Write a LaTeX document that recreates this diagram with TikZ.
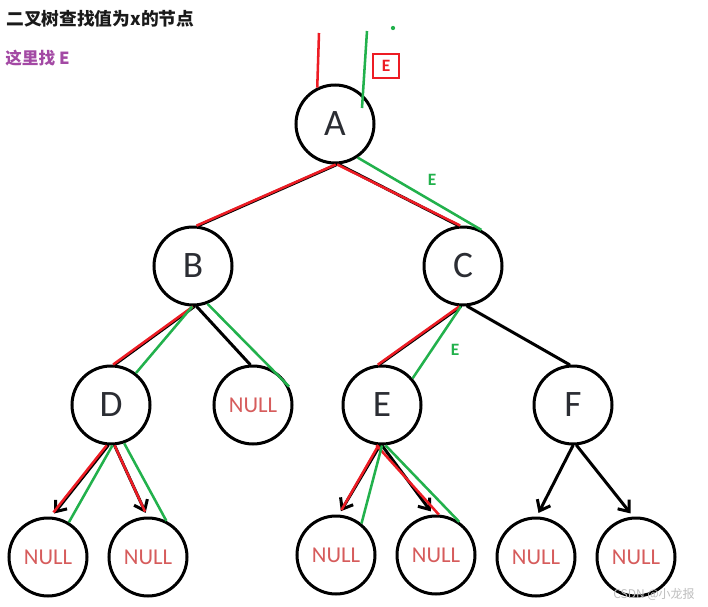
\documentclass[tikz,border=0pt]{standalone}
\usepackage{fontspec}
\usepackage{xcolor}
\usepackage{tikz}
\usetikzlibrary{arrows.meta,calc}
\newfontfamily\carlito{Carlito}
\newfontfamily\cjk{Noto Sans CJK SC}

\begin{document}
\begin{tikzpicture}[x=0.75pt,y=0.75pt,yscale=-1,xscale=1,
	treenode/.style={circle, draw=black, line width=2.25pt, minimum size=58.5pt, inner sep=0pt, text={rgb, 255:red, 43; green, 45; blue, 51 }, font=\carlito\fontsize{28}{30}\selectfont},
	nullnode/.style={treenode, text={rgb, 255:red, 214; green, 92; blue, 92 }, font=\carlito\fontsize{17}{20}\selectfont},
	edge/.style={draw=black, line width=2.25pt, line cap=round},
	arrowed/.style={-{Straight Barb[length=7pt,width=11pt,line width=2.25pt]}, shorten >=3pt},
	redpen/.style={draw={rgb, 255:red, 237; green, 28; blue, 36 }, line width=1.9pt},
	greenpen/.style={draw={rgb, 255:red, 34; green, 177; blue, 76 }, line width=1.9pt},
	penlabel/.style={inner sep=0.75pt, font=\carlito\bfseries\fontsize{13}{15}\selectfont}]
					\useasboundingbox (0,0) rectangle (708,607);
					
					% Text Node
					\node [anchor=west, inner sep=0.75pt, text={rgb, 255:red, 26; green, 26; blue, 26 }, font=\cjk\bfseries\fontsize{13.3}{16}\selectfont] (title) at (5,19) {二叉树查找值为x的节点};
					% Text Node
					\node [anchor=west, inner sep=0.75pt, text={rgb, 255:red, 163; green, 73; blue, 164 }, font=\cjk\bfseries\fontsize{12.5}{15}\selectfont] (hint) at (4,58) {这里找 E};
					
					%Shape: Circle  (tree)
					\node [treenode] (A) at (335,124) {A};
					\node [treenode] (B) at (193,266) {B};
					\node [treenode] (C) at (463,266) {C};
					\node [treenode] (D) at (111,405) {D};
					\node [nullnode] (nB) at (253,405) {NULL};
					\node [treenode] (E) at (382,405) {E};
					\node [treenode] (F) at (573,405) {F};
					\node [nullnode] (nD1) at (48,557) {NULL};
					\node [nullnode] (nD2) at (148,557) {NULL};
					\node [nullnode] (nE1) at (336,555) {NULL};
					\node [nullnode] (nE2) at (436,555) {NULL};
					\node [nullnode] (nF1) at (536,557) {NULL};
					\node [nullnode] (nF2) at (636,557) {NULL};
					
					%Straight Lines  (tree edges)
					\draw [edge] (A.-87) -- (B.83);
					\draw [edge] (A.-85) -- (C.96);
					\draw [edge] (B.-88) -- (D.85);
					\draw [edge] (B.-85) -- (nB.94);
					\draw [edge] (C.-93) -- (E.94);
					\draw [edge] (C.-84) -- (F.95);
					\draw [edge, arrowed] (D.-94) -- (nD1.85);
					\draw [edge, arrowed] (D.-85) -- (nD2.91);
					\draw [edge, arrowed] (E.-93) -- (nE1.86);
					\draw [edge, arrowed] (E.-90) -- (nE2.94);
					\draw [edge, arrowed] (F.-90) -- (nF1.89);
					\draw [edge, arrowed] (F.-85) -- (nF2.94);
					
					%Straight Lines  (red pen)
					\coordinate (redTop) at (319,33);
					\draw [redpen] (redTop) -- (A.116);
					\draw [redpen] (A.-89) -- (B.85);
					\draw [redpen] (A.-87) -- (C.94);
					\draw [redpen] (B.-90) -- (D.87);
					\draw [redpen] (C.-95) -- (E.96);
					\draw [redpen, shorten >=4pt] (D.-96) -- (nD1.87);
					\draw [redpen, shorten >=4pt] (D.-85) -- (nD2.91);
					\draw [redpen, shorten >=4pt] (E.-95) -- (nE1.86);
					\draw [redpen] (E.-98) -- (nE2.86);
					
					%Straight Lines  (green pen)
					\coordinate (greenTop) at (367,31);
					\coordinate (greenEnd) at (362,108);
					\draw [greenpen] (greenTop) -- (greenEnd);
					\fill [fill={rgb, 255:red, 34; green, 177; blue, 76 }] (393,28) circle (1.6pt);
					\draw [greenpen] (A.-56) -- (C.63);
					\draw [greenpen] (B.-91) -- (D.52);
					\draw [greenpen] (B.-69) -- (nB.27);
					\draw [greenpen] (C.-93) -- (E.41);
					\draw [greenpen] (D.-88) -- (nD1.59);
					\draw [greenpen] (D.-71) -- (nD2.63);
					\draw [greenpen] (E.-90) -- (nE1.51);
					\draw [greenpen] (E.-85) -- (nE2.55);
					
					% Text Node
					\node [draw={rgb, 255:red, 237; green, 28; blue, 36 }, line width=1.5pt, minimum width=20pt, minimum height=18pt, penlabel, text={rgb, 255:red, 237; green, 28; blue, 36 }] (boxE) at (386,66) {E};
					% Text Node
					\node [penlabel, text={rgb, 255:red, 34; green, 177; blue, 76 }] (lblAC) at (432,180) {E};
					% Text Node
					\node [penlabel, text={rgb, 255:red, 34; green, 177; blue, 76 }] (lblCE) at (455,350) {E};
					% Text Node
					\node [inner sep=0.75pt, text={rgb, 255:red, 190; green, 190; blue, 190 }, font=\cjk\fontsize{9}{10}\selectfont] (mark) at (654,594) {CSDN @小龙报};
					
\end{tikzpicture}
\end{document}
